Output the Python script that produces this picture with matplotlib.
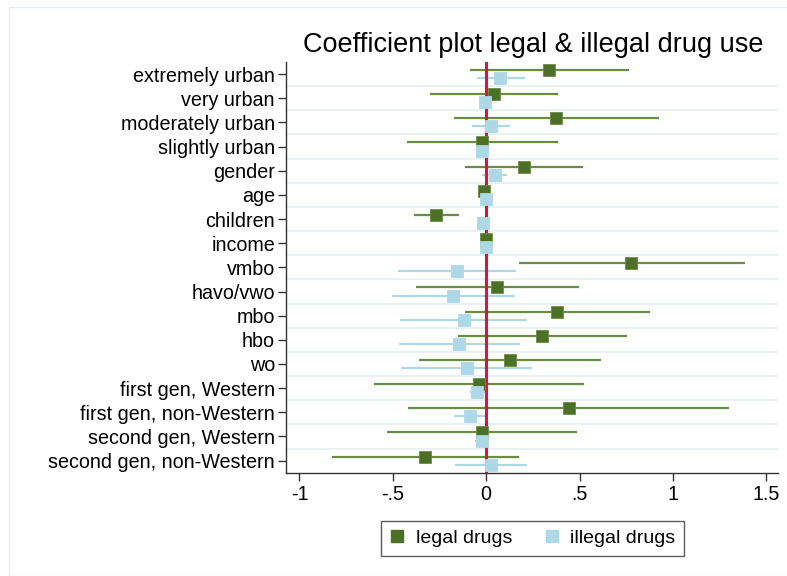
import matplotlib
matplotlib.use("Agg")
import matplotlib.pyplot as plt
from matplotlib.lines import Line2D
import numpy as np

plt.rcParams['font.family'] = ['Liberation Sans', 'DejaVu Sans']

categories = ["extremely urban", "very urban", "moderately urban", "slightly urban",
              "gender", "age", "children", "income", "vmbo", "havo/vwo", "mbo",
              "hbo", "wo", "first gen, Western", "first gen, non-Western",
              "second gen, Western", "second gen, non-Western"]

legal_coef = [0.339, 0.041, 0.373, -0.020, 0.202, -0.011, -0.268, -0.002,
              0.778, 0.057, 0.379, 0.300, 0.127, -0.039, 0.441, -0.021, -0.329]
legal_lo = [-0.089, -0.300, -0.171, -0.425, -0.114, -0.020, -0.386, -0.008,
            0.175, -0.377, -0.112, -0.152, -0.359, -0.600, -0.416, -0.529, -0.827]
legal_hi = [0.766, 0.382, 0.923, 0.384, 0.516, -0.002, -0.148, 0.004,
            1.384, 0.496, 0.875, 0.754, 0.614, 0.523, 1.300, 0.487, 0.175]

illegal_coef = [0.075, -0.007, 0.025, -0.020, 0.045, -0.002, -0.018, 0.000,
                -0.155, -0.175, -0.121, -0.145, -0.104, -0.047, -0.086, -0.025, 0.025]
illegal_lo = [-0.050, -0.015, -0.077, -0.028, -0.021, -0.008, -0.026, -0.005,
              -0.470, -0.502, -0.459, -0.466, -0.454, -0.086, -0.171, -0.059, -0.166]
illegal_hi = [0.209, 0.002, 0.125, -0.012, 0.111, 0.004, -0.010, 0.005,
              0.162, 0.157, 0.218, 0.182, 0.248, -0.004, 0.000, 0.007, 0.221]

xticks = [-1, -0.5, 0, 0.5, 1, 1.5]
xticklabels = ["-1", "-.5", "0", ".5", "1", "1.5"]

green = "#4c7126"
green_line = "#6a8c42"
blue = "#add8e6"
red = "#d8163c"
grid_col = "#e6eff1"

fig = plt.figure(figsize=(7.87, 5.76), dpi=100)
ax = fig.add_axes([0.3634, 0.1793, 0.6252, 0.7131])

pos = np.arange(len(categories))
off = 0.17

# light separators between rows
for g in np.arange(0.5, len(categories) - 1, 1.0):
    ax.axhline(g, color=grid_col, lw=1.2, zorder=0)

# confidence intervals
ax.hlines(pos - off, legal_lo, legal_hi, color=green_line, lw=1.6, zorder=2)
ax.hlines(pos + off, illegal_lo, illegal_hi, color=blue, lw=1.6, zorder=2)

ax.axvline(0, color=red, lw=2.2, zorder=3)

ax.plot(legal_coef, pos - off, ls="none", marker="s", ms=8.8, color=green,
        mec="#6a8c42", mew=0.6, zorder=4)
ax.plot(illegal_coef, pos + off, ls="none", marker="s", ms=8.8, color=blue,
        mec=blue, mew=0.6, zorder=4)

ax.set_ylim(len(categories) - 0.5, -0.5)
ax.set_xlim(-1.072, 1.563)
ax.set_yticks(pos)
ax.set_yticklabels(categories, fontsize=14.2)
ax.set_xticks(xticks)
ax.set_xticklabels(xticklabels, fontsize=14.2)
ax.tick_params(axis="both", length=6, width=1, color="#333333")
ax.tick_params(axis="y", pad=2)
ax.tick_params(axis="x", pad=3)
for s in ["top", "right"]:
    ax.spines[s].set_visible(False)
for s in ["left", "bottom"]:
    ax.spines[s].set_color("#333333")
    ax.spines[s].set_linewidth(1)

fig.text(0.677, 0.922, "Coefficient plot legal & illegal drug use", fontsize=19.5,
         ha="center", va="center")

handles = [Line2D([], [], ls="none", marker="s", ms=9, color=green, label="legal drugs"),
           Line2D([], [], ls="none", marker="s", ms=9, color=blue, label="illegal drugs")]
leg = fig.legend(handles=handles, loc="center", bbox_to_anchor=(0.677, 0.0655), ncol=2,
                 fontsize=14, frameon=True, fancybox=False, edgecolor="#333333",
                 handlelength=0.7, handletextpad=0.6, columnspacing=1.7,
                 borderpad=0.45, borderaxespad=0.0)
leg.get_frame().set_linewidth(1)

# faint outer frame
fig.patches.append(plt.Rectangle((0.0115, 0.0), 0.99, 0.988, transform=fig.transFigure,
                                 fill=False, edgecolor="#e4eef0", lw=1))

fig.savefig("out.png", dpi=100)
